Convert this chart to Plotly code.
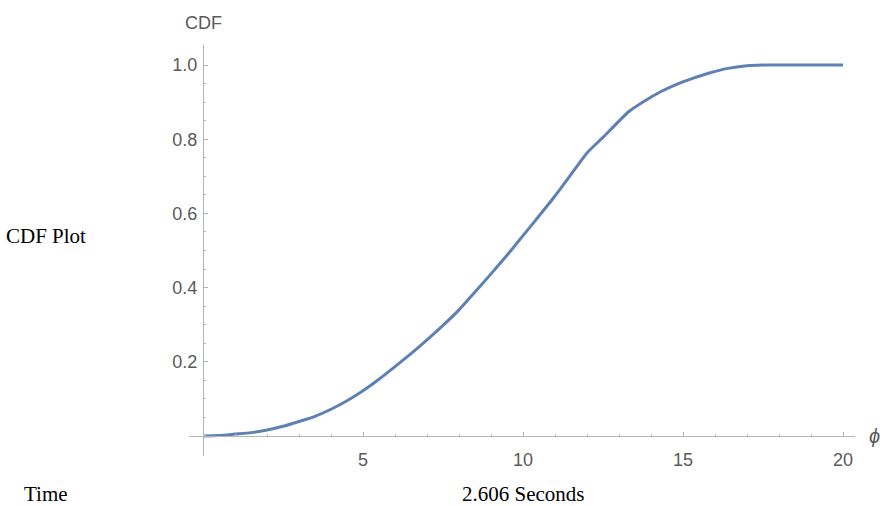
import numpy as np
import plotly.graph_objects as go

# ---- data ----
phi = [0, 0.5, 1, 1.5, 2, 2.5, 3, 3.5, 4, 4.5, 5, 5.5, 6, 6.5, 7, 7.5, 8, 8.5,
       9, 9.5, 10, 10.5, 11, 11.5, 12, 12.5, 13.3, 13.8, 14.3, 14.8, 15.3,
       15.8, 16.4, 17, 17.5, 20]
cdf = [0, 0.001, 0.005, 0.009, 0.016, 0.026, 0.039, 0.053, 0.072, 0.095,
       0.122, 0.153, 0.187, 0.222, 0.259, 0.298, 0.340, 0.388, 0.437, 0.487,
       0.540, 0.593, 0.647, 0.705, 0.763, 0.805, 0.874, 0.903, 0.928, 0.948,
       0.964, 0.978, 0.991, 0.998, 1.0, 1.0]

x_major = [5, 10, 15, 20]
x_major_text = ["5", "10", "15", "20"]
y_major = [0.2, 0.4, 0.6, 0.8, 1.0]
y_major_text = ["0.2", "0.4", "0.6", "0.8", "1.0"]
x_minor = list(range(0, 21))
y_minor = [round(v, 2) for v in np.arange(0, 1.0001, 0.05)]

x_range = [-0.4375, 20.375]
y_range = [-0.054, 1.054]

axis_col = "#b4b4b4"
label_col = "#5a5a5a"
sans = "Liberation Sans, Arial, sans-serif"
serif = "Liberation Serif, Times New Roman, serif"

fig = go.Figure()
fig.add_trace(go.Scatter(x=phi, y=cdf, mode="lines",
                         line=dict(color="#5E81B5", width=3,
                                   shape="spline", smoothing=0.5),
                         hoverinfo="skip", showlegend=False))

x_pos = (0 - y_range[0]) / (y_range[1] - y_range[0])
y_pos = (0 - x_range[0]) / (x_range[1] - x_range[0])

fig.update_layout(
    width=886, height=506,
    margin=dict(l=189, r=31, t=45, b=50),
    paper_bgcolor="white", plot_bgcolor="white",
    xaxis=dict(range=x_range, showgrid=False, zeroline=False,
               anchor="free", position=x_pos,
               showline=True, linecolor=axis_col, linewidth=1,
               tickmode="array", tickvals=x_major, ticktext=x_major_text,
               ticks="inside", ticklen=4, tickcolor=axis_col, tickwidth=1,
               tickfont=dict(family=sans, size=18, color=label_col),
               ticklabelstandoff=7,
               minor=dict(tickmode="array", tickvals=x_minor, ticks="inside",
                          ticklen=2, tickcolor=axis_col, tickwidth=1)),
    yaxis=dict(range=y_range, showgrid=False, zeroline=False,
               anchor="free", position=y_pos,
               showline=True, linecolor=axis_col, linewidth=1,
               tickmode="array", tickvals=y_major, ticktext=y_major_text,
               ticks="inside", ticklen=4, tickcolor=axis_col, tickwidth=1,
               tickfont=dict(family=sans, size=18, color=label_col),
               ticklabelstandoff=2,
               minor=dict(tickmode="array", tickvals=y_minor, ticks="inside",
                          ticklen=2, tickcolor=axis_col, tickwidth=1)),
)

# axis labels
fig.add_annotation(text="CDF", xref="x", yref="paper", x=0, y=1.0,
                   xanchor="center", yanchor="bottom", yshift=10, showarrow=False,
                   font=dict(family=sans, size=18, color=label_col))
fig.add_annotation(text="<i>ϕ</i>", xref="paper", yref="y", x=1.0, y=0,
                   xanchor="left", yanchor="middle", xshift=12, showarrow=False,
                   font=dict(family=sans, size=20, color=label_col))

# surrounding text
fig.add_annotation(text="CDF Plot", xref="paper", yref="paper", x=0, y=0,
                   xanchor="left", yanchor="middle", showarrow=False,
                   xshift=-184, yshift=220, borderpad=0,
                   font=dict(family=serif, size=21, color="black"))
fig.add_annotation(text="Time", xref="paper", yref="paper", x=0, y=0,
                   xanchor="left", yanchor="middle", showarrow=False,
                   xshift=-166, yshift=-38, borderpad=0,
                   font=dict(family=serif, size=21, color="black"))
fig.add_annotation(text="2.606 Seconds", xref="paper", yref="paper", x=0, y=0,
                   xanchor="left", yanchor="middle", showarrow=False,
                   xshift=272, yshift=-38, borderpad=0,
                   font=dict(family=serif, size=21, color="black"))

fig.write_html("out.html")
